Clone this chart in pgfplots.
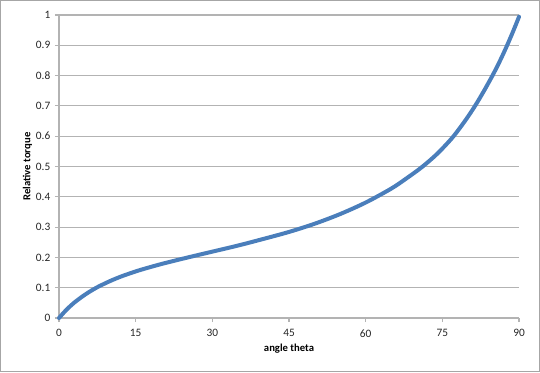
\documentclass[border=0pt]{standalone}
\usepackage{pgfplots}
\pgfplotsset{compat=1.18}
\usepackage{fontspec}
\setmainfont{Carlito}
\definecolor{xlblue}{HTML}{4A7EBB}
\definecolor{gridgray}{HTML}{B3B3B3}
\definecolor{framegray}{HTML}{A6A6A6}
\begin{document}
\begin{tikzpicture}
\useasboundingbox (0,0) rectangle (405pt,279pt);
\draw[framegray, line width=0.8pt] (0.6pt,0.6pt) rectangle (404.4pt,278.4pt);
\begin{axis}[
  at={(44.25pt,40.5pt)}, anchor=south west,
  scale only axis, width=345pt, height=227.25pt,
  xmin=0, xmax=90, ymin=0, ymax=1,
  xtick={0,15,...,90},
  ytick={0,0.1,...,1},
  yticklabels={0,0.1,0.2,0.3,0.4,0.5,0.6,0.7,0.8,0.9,1},
  axis x line=bottom, axis y line=left,
  axis line style={gridgray, line width=0.8pt, -},
  tick style={gridgray, line width=0.8pt},
  tick align=outside, major tick length=3pt,
  ymajorgrids, grid style={gridgray, line width=0.8pt},
  /pgf/number format/assume math mode=true,
  tick label style={font=\fontsize{8.5}{10}\selectfont, text=black!85},
  xticklabel style={yshift=-2pt},
  xlabel={\textbf{angle theta}},
  ylabel={\textbf{Relative torque}},
  label style={font=\fontsize{8}{10}\selectfont},
  xlabel style={yshift=2pt},
  ylabel style={yshift=-4pt},
  clip=false,
]
\addplot[xlblue, line width=3pt, smooth, line cap=round] coordinates {
(0,0) (1,0.019) (2,0.036) (3,0.051) (4,0.064) (5,0.076) (6,0.087) (7,0.097)
(8,0.106) (10,0.122) (12,0.136) (14,0.148) (16,0.159) (20,0.178) (25,0.199)
(30,0.219) (35,0.239) (40,0.261) (45,0.284) (50,0.311) (55,0.343) (60,0.381)
(65,0.427) (68,0.461) (71,0.498) (74,0.542) (77,0.596) (79.5,0.652)
(81.4,0.700) (83.2,0.751) (85,0.806) (86.4,0.853) (87.6,0.897) (88.8,0.944)
(90,0.994)
};
\end{axis}
\end{tikzpicture}
\end{document}
